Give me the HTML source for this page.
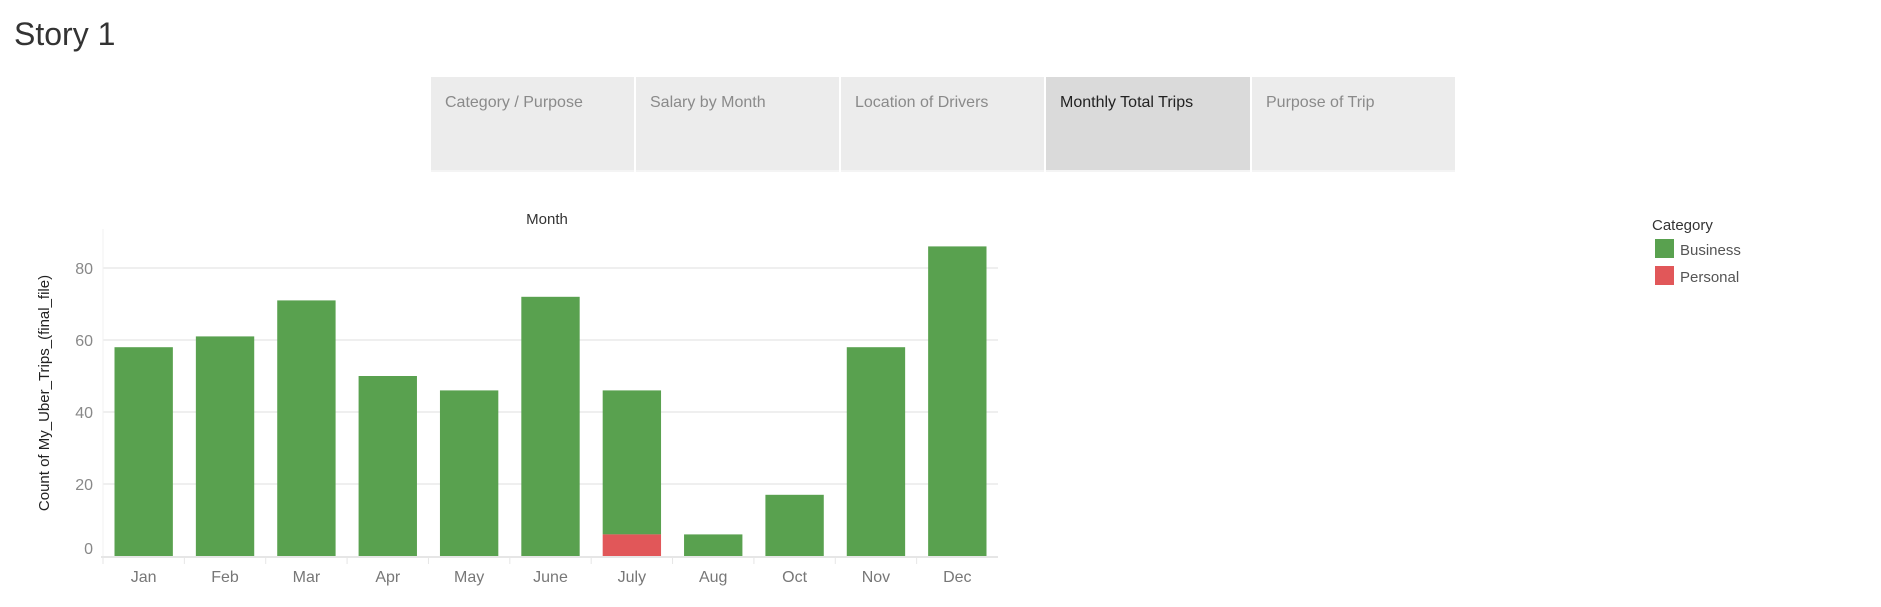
<!DOCTYPE html>
<html><head><meta charset="utf-8">
<style>
body{margin:0;width:1881px;height:607px;background:#fff;font-family:"Liberation Sans",sans-serif;overflow:hidden;position:relative}
.tab{position:absolute;top:77px;height:95px;background:#ececec;color:#8a8a8a;font-size:16px;box-sizing:border-box;padding:17px 0 0 14px;border-bottom:2px solid #f4f4f4}
.tab.sel{background:#dadada;color:#222}
</style></head><body>
<div style="position:absolute;left:14px;top:16px;font-size:32px;color:#333">Story 1</div>
<div class="tab" style="left:431px;width:203px">Category / Purpose</div>
<div class="tab" style="left:636px;width:203px">Salary by Month</div>
<div class="tab" style="left:841px;width:203px">Location of Drivers</div>
<div class="tab sel" style="left:1046px;width:204px">Monthly Total Trips</div>
<div class="tab" style="left:1252px;width:203px">Purpose of Trip</div>
<svg id="chart" width="1881" height="607" style="position:absolute;left:0;top:0" font-family="Liberation Sans, sans-serif"></svg>
<script>
const categories=["Jan","Feb","Mar","Apr","May","June","July","Aug","Oct","Nov","Dec"];
const business=[58,61,71,50,46,72,40,6,17,58,86];
const personal=[0,0,0,0,0,0,6,0,0,0,0];
const yTicks=[0,20,40,60,80];
const legendLabels=["Business","Personal"];
const colors=["#59a14f","#e15759"];
const svg=document.getElementById('chart');
const NS="http://www.w3.org/2000/svg";
const L=103,R=998,B=556,PX=3.6,TOP=229;
const bw=(R-L)/categories.length;
const y=v=>B-v*PX;
const x=i=>L+i*bw;
function mk(t,a,txt){const e=document.createElementNS(NS,t);for(const k in a)e.setAttribute(k,a[k]);if(txt!=null)e.textContent=txt;svg.appendChild(e);return e;}
yTicks.forEach(v=>{
  if(v>0){const g=mk('line',{x1:L,x2:R,y1:y(v),y2:y(v),stroke:'#efefef','stroke-width':2});
  
  }
  const t=mk('text',{x:93,y:y(v)+(v===0?-2:6),'text-anchor':'end','font-size':16,fill:'#888'},v);
  
  
});
const ax=mk('line',{x1:L-2,x2:R,y1:B+1,y2:B+1,stroke:'#e6e6e6','stroke-width':2});


const yl=mk('line',{x1:L,x2:L,y1:TOP,y2:B,stroke:'#f2f2f2','stroke-width':1});


categories.forEach((c,i)=>{
  const x0=x(i)+11.5,w=bw-23;
  const tot=business[i]+personal[i];
  const b=mk('rect',{x:x0,y:y(tot),width:w,height:business[i]*PX,fill:colors[0]});
  
  
  if(personal[i]>0){const p=mk('rect',{x:x0,y:y(personal[i]),width:w,height:personal[i]*PX,fill:colors[1]});
  
  }
  const tk=mk('line',{x1:x(i),x2:x(i),y1:B+2,y2:B+8,stroke:'#e6e6e6'});
  
  
  const t=mk('text',{x:x(i)+bw/2,y:582,'text-anchor':'middle','font-size':16,fill:'#777'},c);
  
  
});
const mt=mk('text',{x:547,y:224,'text-anchor':'middle','font-size':15,fill:'#333'},'Month');


const at=mk('text',{x:0,y:0,'text-anchor':'middle','font-size':15,fill:'#222',transform:'translate(49,393) rotate(-90)'},'Count of My_Uber_Trips_(final_file)');


const lt=mk('text',{x:1652,y:230,'font-size':15,fill:'#333'},'Category');


legendLabels.forEach((l,i)=>{
  const r=mk('rect',{x:1655,y:239+i*27,width:19,height:19,fill:colors[i]});
  
  
  const t=mk('text',{x:1680,y:255+i*27,'font-size':15,fill:'#555'},l);
  
  
});
</script>
</body></html>
